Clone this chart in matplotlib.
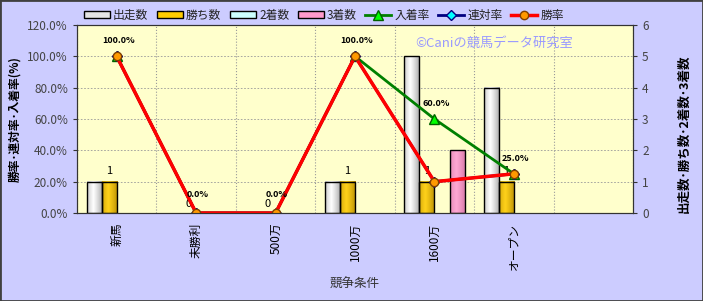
import matplotlib
matplotlib.use("Agg")
import matplotlib.pyplot as plt
from matplotlib.patches import Rectangle
from matplotlib.colors import to_rgb
import numpy as np

plt.rcParams['font.family'] = ['Noto Sans CJK JP', 'DejaVu Sans']

# data
conds = ['新馬', '未勝利', '500万', '1000万', '1600万', 'オープン', '']
starts = [1, 0, 0, 1, 5, 4]
wins = [1, 0, 0, 1, 1, 1]
seconds = [0, 0, 0, 0, 0, 0]
thirds = [0, 0, 0, 0, 2, 0]
win_rate = [100.0, 0.0, 0.0, 100.0, 20.0, 25.0]
rentai_rate = [100.0, 0.0, 0.0, 100.0, 20.0, 25.0]
place_rate = [100.0, 0.0, 0.0, 100.0, 60.0, 25.0]


def shade(axis, bars, c_mid, c_edge):
    # cylinder-like horizontal gradient inside each bar
    t = np.linspace(0, 1, 40)
    f = np.clip(1 - np.abs(t - 0.4) / 0.6, 0, 1) ** 0.7
    m, e = np.array(to_rgb(c_mid)), np.array(to_rgb(c_edge))
    img = (e[None, :] * (1 - f[:, None]) + m[None, :] * f[:, None])[None, :, :]
    for b in bars:
        h = b.get_height()
        if h == 0:
            b.set_linewidth(0)
            continue
        x0 = b.get_x()
        axis.imshow(img, extent=[x0, x0 + b.get_width(), 0, h], aspect='auto',
                    zorder=1.5, interpolation='bilinear')
        b.set_facecolor('none')
        b.set_zorder(2)


fig = plt.figure(figsize=(7.03, 3.01), dpi=100)
fig.patch.set_facecolor('#CCCCFF')
fig.patches.append(Rectangle((0, 0), 1, 1, transform=fig.transFigure,
                             fill=False, edgecolor='#404040', linewidth=2))

ax = fig.add_axes([77 / 703, 1 - 213 / 301, 556 / 703, 188 / 301])
ax.set_facecolor('#FFFFCC')
ax2 = ax.twinx()

x = np.arange(len(starts))
w = 0.19
b1 = ax.bar(x - 1.5 * w, starts, w, color='#E4E4E4', edgecolor='black', linewidth=1, label='出走数')
b2 = ax.bar(x - 0.5 * w, wins, w, color='#FFCC00', edgecolor='black', linewidth=1, label='勝ち数')
b3 = ax.bar(x + 0.5 * w, seconds, w, color='#CCFFFF', edgecolor='black', linewidth=1, label='2着数')
b4 = ax.bar(x + 1.5 * w, thirds, w, color='#FF99CC', edgecolor='black', linewidth=1, label='3着数')

shade(ax, b1, '#FFFFFF', '#9A9A9A')
shade(ax, b2, '#FFD21A', '#B08600')
shade(ax, b3, '#E8FFFF', '#88CCCC')
shade(ax, b4, '#FFA8D4', '#D070A0')

for xi, v in zip(x, wins):
    ax.annotate(str(v), (xi - 0.5 * w, v), xytext=(0, 4 if v else 3), textcoords='offset points',
                ha='center', va='bottom', fontsize=8, color='black')

l1, = ax2.plot(x, place_rate, color='#008000', lw=2, marker='^', ms=7,
               mfc='#00FF00', mec='#006000', label='入着率')
l2, = ax2.plot(x, rentai_rate, color='#000080', lw=2, marker='D', ms=5,
               mfc='#00FFFF', mec='#000080', label='連対率')
l3, = ax2.plot(x, win_rate, color='#FF0000', lw=2.5, marker='o', ms=6,
               mfc='#FF9900', mec='#804000', label='勝率')

for xi, v in zip(x, place_rate):
    ax2.annotate('%.1f%%' % v, (xi, v), xytext=(1, 8 if v else 10), textcoords='offset points',
                 ha='center', va='bottom', fontsize=6.5, fontweight='bold', color='black')

ax.set_xlim(-0.5, len(conds) - 0.5)
ax.set_ylim(0, 6)
ax2.set_ylim(0, 120)

# right side = counts, left side = percentages
ax.yaxis.tick_right()
ax.yaxis.set_label_position('right')
ax2.yaxis.tick_left()
ax2.yaxis.set_label_position('left')

ax.set_yticks(range(7))
ax2.set_yticks(np.arange(0, 121, 20))
ax2.set_yticklabels(['%.1f%%' % t for t in np.arange(0, 121, 20)])

ax.set_xticks(range(len(conds)))
ax.set_xticklabels(conds, rotation=90, fontsize=8.5, color='black')
ax.set_xticks(np.arange(-0.5, len(conds), 1), minor=True)
ax.tick_params(axis='x', which='both', length=0, pad=7)
ax.grid(True, which='minor', axis='x', color='#999999', linestyle=':', linewidth=0.8)
ax.grid(True, which='major', axis='y', color='#999999', linestyle='--', linewidth=0.6, dashes=(2, 2))
ax.set_axisbelow(True)

for a in (ax, ax2):
    a.tick_params(axis='y', labelsize=8.5, labelcolor='#444444', color='#333333', length=3)
    for s in a.spines.values():
        s.set_color('#333333')

ax.set_ylabel('出走数･勝ち数･2着数･3着数', fontsize=9, fontweight='bold')
ax.yaxis.set_label_coords(1.08, 0.42)
ax2.set_ylabel('勝率･連対率･入着率(%)', fontsize=8.5, fontweight='bold')
ax2.yaxis.set_label_coords(-0.1, 0.5)
ax.set_xlabel('競争条件', fontsize=9, color='#333333', labelpad=6)

ax2.text(0.75, 0.905, '©Caniの競馬データ研究室', transform=ax2.transAxes,
         ha='center', va='center', fontsize=9.5, color='#9999FF')

handles = [b1, b2, b3, b4, l1, l2, l3]
leg = fig.legend(handles, [h.get_label() for h in handles], loc='center',
                 bbox_to_anchor=(324 / 703, 1 - 15 / 301), ncol=7, frameon=False,
                 fontsize=8.5, handlelength=2.2, handleheight=0.6, columnspacing=0.7,
                 handletextpad=0.3, labelcolor='#222222')
cols = ['#E4E4E4', '#FFCC00', '#CCFFFF', '#FF99CC']
for p, c in zip(leg.legend_handles[:4], cols):
    p.set_facecolor(c)
    p.set_edgecolor('black')
    p.set_linewidth(1)

fig.savefig('out.png', dpi=100, facecolor=fig.get_facecolor())
